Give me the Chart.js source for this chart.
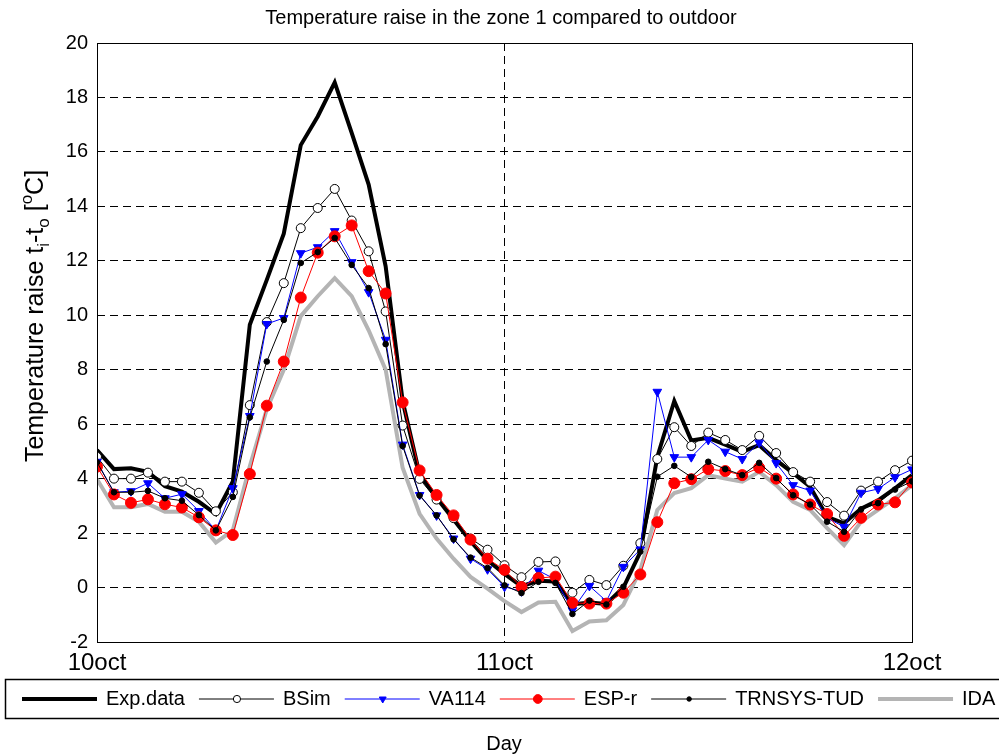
<!DOCTYPE html>
<html>
<head>
<meta charset="utf-8">
<script src="https://cdn.jsdelivr.net/npm/chart.js@4.4.1/dist/chart.umd.min.js"></script>
<style>
  html, body { margin: 0; padding: 0; background: #fff; }
  #wrap { width: 999px; height: 756px; }
</style>
</head>
<body>
<div id="wrap"><canvas id="zoneChart" width="999" height="756"></canvas></div>
<script>
// hours from 10 oct 00:00
const hours = [0,1,2,3,4,5,6,7,8,9,10,11,12,13,14,15,16,17,18,19,20,21,22,23,24,
               25,26,27,28,29,30,31,32,33,34,35,36,37,38,39,40,41,42,43,44,45,46,47,48];
const dayTicks = [0, 24, 48];
const dayLabels = ['10oct', '11oct', '12oct'];

const expData = [5.05,4.35,4.38,4.25,3.72,3.52,3.15,2.7,3.9,9.65,11.3,13.0,16.25,17.3,18.55,16.7,14.8,11.8,6.85,
                 4.15,3.3,2.5,1.7,1.0,0.5,0.05,0.25,0.22,-0.62,-0.55,-0.6,0.0,1.3,4.8,6.85,5.4,5.5,5.25,4.98,
                 5.23,4.68,4.2,3.7,2.6,2.36,2.9,3.2,3.64,4.13];
const bsim = [4.8,4.0,4.0,4.22,3.89,3.89,3.48,2.8,3.5,6.7,9.75,11.18,13.2,13.94,14.64,13.48,12.35,10.14,5.95,
              3.99,3.23,2.55,1.8,1.39,0.82,0.38,0.94,0.96,-0.19,0.28,0.09,0.8,1.63,4.72,5.89,5.2,5.69,5.42,5.05,
              5.57,4.94,4.24,3.89,3.14,2.64,3.56,3.89,4.31,4.66];
const va114 = [4.62,3.5,3.54,3.83,3.28,3.43,2.81,2.1,3.65,6.3,9.68,9.9,12.28,12.5,13.09,11.95,10.85,9.1,5.25,
               3.4,2.65,1.8,1.06,0.67,0.03,-0.14,0.62,0.3,-0.83,0.06,-0.5,0.76,1.4,7.19,4.79,4.79,5.42,4.99,4.72,
               5.32,4.57,3.76,3.56,2.55,2.23,3.48,3.62,4.05,4.34];
const espr = [4.44,3.42,3.11,3.24,3.06,2.94,2.58,2.1,1.93,4.17,6.68,8.3,10.65,12.3,12.9,13.3,11.62,10.8,6.8,
              4.3,3.4,2.65,1.76,1.06,0.65,0.02,0.35,0.4,-0.56,-0.59,-0.59,-0.19,0.48,2.4,3.83,3.98,4.35,4.28,4.13,
              4.4,4.0,3.42,3.05,2.7,1.9,2.56,3.05,3.13,3.86];
const trnsys = [4.6,3.5,3.5,3.55,3.28,3.19,2.66,2.1,3.33,6.25,8.3,9.83,11.92,12.32,12.84,11.85,11.0,8.94,5.2,
                3.38,2.65,1.77,1.1,0.72,0.08,-0.2,0.21,0.17,-0.97,-0.48,-0.62,0.03,1.32,4.07,4.47,4.06,4.62,4.35,4.13,
                4.58,4.02,3.39,3.05,2.42,2.05,2.87,3.1,3.6,3.9];
const ida = [3.98,2.95,2.95,3.07,2.78,2.78,2.42,1.65,2.1,4.45,6.55,8.0,9.97,10.7,11.36,10.7,9.45,8.0,4.4,
             2.71,1.8,1.06,0.39,-0.04,-0.5,-0.9,-0.55,-0.52,-1.6,-1.25,-1.2,-0.64,0.64,2.85,3.47,3.65,4.13,4.0,3.89,
             4.25,3.76,3.15,2.85,2.18,1.56,2.42,2.85,3.28,3.76];

const FONT = "'Liberation Sans', Arial, sans-serif";

function pts(arr) {
    return hours.map((h, i) => ({ x: h, y: arr[i] }));
}

// frame, title, axis titles and the boxed legend
const decorPlugin = {
    id: 'decor',
    afterDraw(chart) {
        const ctx = chart.ctx;
        const a = chart.chartArea;
        ctx.save();

        // plot frame
        ctx.strokeStyle = '#000';
        ctx.lineWidth = 1;
        ctx.setLineDash([]);
        ctx.strokeRect(a.left + 0.5, a.top + 0.5, a.right - a.left, a.bottom - a.top);

        // title
        ctx.fillStyle = '#000';
        ctx.font = '20px ' + FONT;
        ctx.textAlign = 'center';
        ctx.textBaseline = 'middle';
        ctx.fillText('Temperature raise in the zone 1 compared to outdoor', 501, 18);

        // x title
        ctx.font = '20px ' + FONT;
        ctx.fillText('Day', 504, 744);

        // y title with sub/superscripts
        const parts = [
            { t: 'Temperature raise t', k: 0 },
            { t: 'i', k: 1 },
            { t: '-t', k: 0 },
            { t: 'o', k: 1 },
            { t: ' [', k: 0 },
            { t: 'o', k: -1 },
            { t: 'C]', k: 0 }
        ];
        const big = '25px ' + FONT, small = '17px ' + FONT;
        let total = 0;
        parts.forEach(p => { ctx.font = p.k ? small : big; p.w = ctx.measureText(p.t).width; total += p.w; });
        ctx.translate(43, 316);
        ctx.rotate(-Math.PI / 2);
        ctx.textAlign = 'left';
        ctx.textBaseline = 'alphabetic';
        let px = -total / 2;
        parts.forEach(p => {
            ctx.font = p.k ? small : big;
            const dy = p.k === 1 ? 6 : (p.k === -1 ? -11 : 0);
            ctx.fillText(p.t, px, dy);
            px += p.w;
        });
        ctx.setTransform(1, 0, 0, 1, 0, 0);

        // legend box
        ctx.strokeStyle = '#000';
        ctx.lineWidth = 1.5;
        ctx.strokeRect(5.5, 679.5, 1010, 39);
        ctx.font = '20px ' + FONT;
        ctx.textAlign = 'left';
        ctx.textBaseline = 'middle';
        const ly = 699;
        let lx = 22;
        chart.data.datasets.forEach(ds => {
            ctx.setLineDash([]);
            ctx.strokeStyle = ds.borderColor;
            ctx.lineWidth = ds.borderWidth;
            ctx.beginPath();
            ctx.moveTo(lx, ly);
            ctx.lineTo(lx + 75, ly);
            ctx.stroke();
            if (ds.pointRadius > 0) {
                ctx.fillStyle = ds.pointBackgroundColor;
                ctx.strokeStyle = ds.pointBorderColor;
                ctx.lineWidth = 1;
                Chart.helpers.drawPoint(ctx, {
                    pointStyle: ds.pointStyle,
                    rotation: ds.pointRotation || 0,
                    radius: ds.pointRadius * 0.8,
                    borderWidth: 1
                }, lx + 38, ly);
            }
            ctx.fillStyle = '#000';
            ctx.fillText(ds.label, lx + 84, ly);
            lx += 84 + ctx.measureText(ds.label).width + 14;
        });
        ctx.restore();
    }
};

const ctx = document.getElementById('zoneChart').getContext('2d');
const zoneChart = new Chart(ctx, {
    type: 'line',
    data: {
        datasets: [
            { label: 'Exp.data', data: pts(expData), borderColor: '#000', borderWidth: 4,
              pointRadius: 0, order: 5 },
            { label: 'BSim', data: pts(bsim), borderColor: '#000', borderWidth: 1,
              pointStyle: 'circle', pointRadius: 4.5, pointBackgroundColor: '#fff', pointBorderColor: '#000',
              pointBorderWidth: 1, order: 4 },
            { label: 'VA114', data: pts(va114), borderColor: '#0000ff', borderWidth: 1,
              pointStyle: 'triangle', pointRotation: 180, pointRadius: 5, pointBackgroundColor: '#0000ff',
              pointBorderColor: '#0000ff', pointBorderWidth: 1, order: 3 },
            { label: 'ESP-r', data: pts(espr), borderColor: '#ff0000', borderWidth: 1,
              pointStyle: 'circle', pointRadius: 5.5, pointBackgroundColor: '#ff0000', pointBorderColor: '#ff0000',
              pointBorderWidth: 1, order: 2 },
            { label: 'TRNSYS-TUD', data: pts(trnsys), borderColor: '#000', borderWidth: 1,
              pointStyle: 'circle', pointRadius: 2.8, pointBackgroundColor: '#000', pointBorderColor: '#000',
              pointBorderWidth: 1, order: 1 },
            { label: 'IDA', data: pts(ida), borderColor: '#b4b4b4', borderWidth: 4,
              pointRadius: 0, order: 6 }
        ]
    },
    options: {
        responsive: false,
        animation: false,
        devicePixelRatio: 1,
        layout: { padding: { left: 0, right: 87, top: 43, bottom: 0 } },
        elements: { line: { tension: 0, fill: false } },
        plugins: {
            legend: { display: false },
            title: { display: false },
            tooltip: { enabled: false }
        },
        scales: {
            x: {
                type: 'linear',
                min: 0,
                max: 48,
                afterFit: function (scale) { scale.height = 114; },
                afterBuildTicks: function (scale) { scale.ticks = dayTicks.map(v => ({ value: v })); },
                ticks: {
                    color: '#000',
                    font: { family: FONT, size: 24 },
                    padding: 7,
                    maxRotation: 0,
                    autoSkip: false,
                    callback: function (value) { return dayLabels[dayTicks.indexOf(value)]; }
                },
                grid: { color: '#000', lineWidth: 1, drawTicks: false },
                border: { display: false, dash: [8, 5] }
            },
            y: {
                min: -2,
                max: 20,
                afterFit: function (scale) { scale.width = 97; },
                ticks: {
                    stepSize: 2,
                    color: '#000',
                    font: { family: FONT, size: 20 },
                    padding: 9
                },
                grid: { color: '#000', lineWidth: 1, drawTicks: false },
                border: { display: false, dash: [8, 5] }
            }
        }
    },
    plugins: [decorPlugin]
});
</script>
</body>
</html>
